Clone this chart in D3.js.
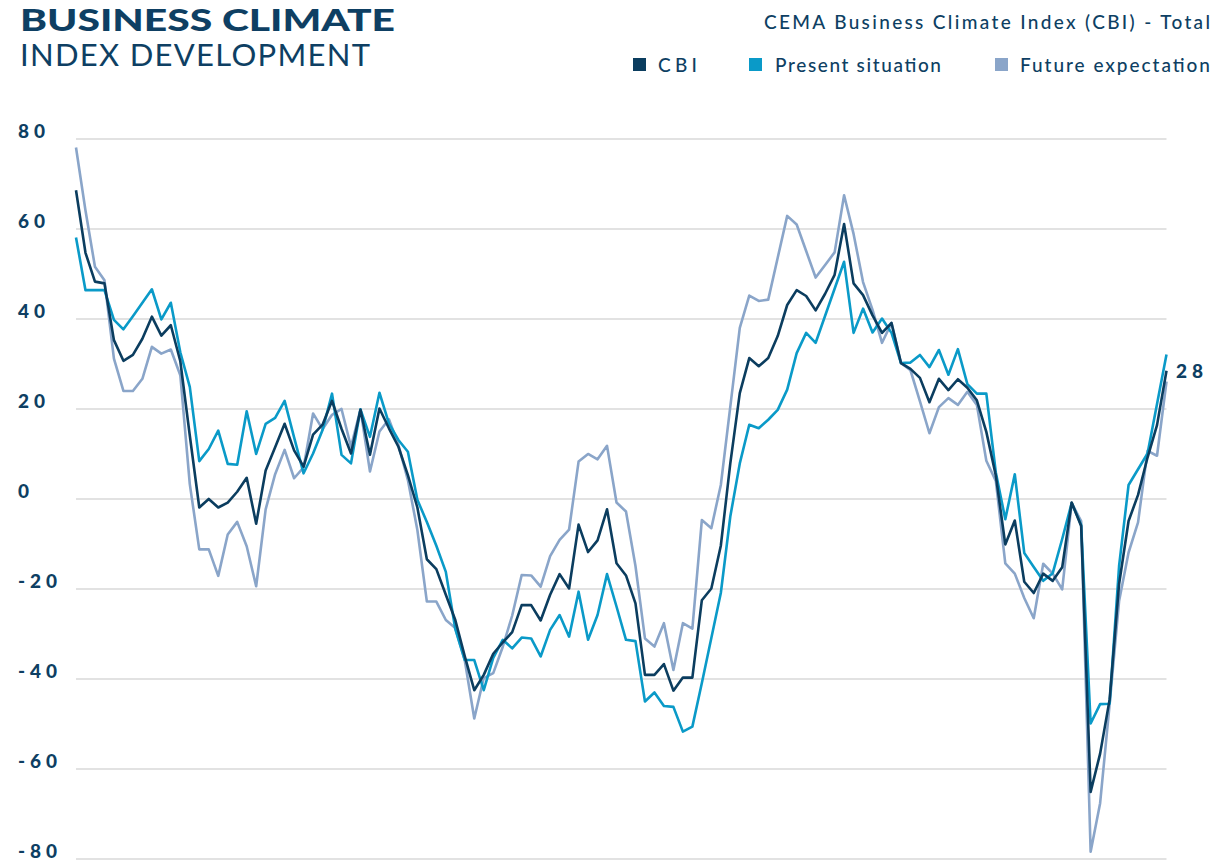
<!DOCTYPE html>
<html>
<head>
<meta charset="utf-8">
<script src="https://cdn.jsdelivr.net/npm/d3@7"></script>
<style>
  body { margin: 0; background: #ffffff; }
  svg { display: block; }
</style>
</head>
<body>
<svg id="chart" width="1214" height="860"></svg>
<script>
// ---------------- DATA ----------------
// Monthly survey observations (index of period, left to right)
const periods = d3.range(116);

const cbi = [
  68.5, 54.6, 48.2, 47.8, 35.2, 30.6, 31.9, 35.5, 40.4, 36.2,
  38.5, 30.5, 14, -2, -0.1, -2, -0.9, 1.5, 4.6, -5.6,
  6.2, 11.4, 16.6, 10.7, 7.1, 14.2, 16.4, 21.7, 15.5, 10,
  19.7, 9.7, 20, 15.6, 11.5, 5.2, -2, -13.5, -15.7, -21.4,
  -27, -35.1, -42.6, -39.2, -34.5, -32, -29.7, -23.7, -23.7, -27.1,
  -21.4, -16.8, -20, -5.8, -11.9, -9.3, -2.4, -14.4, -17.1, -23.3,
  -39.2, -39.2, -36.8, -42.7, -39.8, -39.8, -22.6, -20, -10.5, 7.8,
  23.4, 31.2, 29.4, 31.2, 36.1, 43, 46.3, 45, 41.8, 45.5,
  49.7, 61, 47.8, 45.2, 40.7, 36.8, 39, 30.1, 28.8, 26.8,
  21.4, 26.6, 24.1, 26.5, 24.6, 21.8, 14.8, 5.1, -10.2, -4.9,
  -18.5, -21, -16.7, -18.3, -15.3, -0.9, -6.1, -65.2, -56.7, -44.7,
  -19, -5, 0.8, 9.1, 16.3, 28.4
];

const presentSituation = [
  58, 46.3, 46.3, 46.3, 39.7, 37.6, 40.5, 43.5, 46.5, 39.8,
  43.5, 32.5, 24.8, 8.3, 11, 15.1, 7.7, 7.5, 19.4, 9.9,
  16.6, 17.9, 21.7, 13.6, 5.6, 10, 15.2, 23.3, 9.7, 7.8,
  19.8, 13.7, 23.5, 16.7, 13, 10.4, -0.3, -5.2, -10.5, -16.3,
  -29, -35.9, -35.9, -42.6, -35.4, -31.4, -33.3, -30.9, -31.1, -35.1,
  -29.2, -25.9, -30.7, -20.7, -31.4, -25.9, -16.8, -24, -31.4, -31.7,
  -45.1, -43.1, -46.1, -46.3, -51.8, -50.7, -41, -31, -21, -4,
  7.8, 16.4, 15.6, 17.5, 19.7, 24.2, 32.3, 36.8, 34.6, 40.6,
  46.6, 52.6, 36.8, 42.2, 36.9, 40, 36.8, 30.1, 30.2, 31.9,
  29.2, 33, 27.5, 33.2, 25.4, 23.3, 23.3, 5.8, -4.6, 5.4,
  -12.1, -15.2, -18.3, -16.6, -9, -1, -5.9, -50, -45.7, -45.6,
  -15, 3, 6.5, 10, 21, 32
];

const futureExpectation = [
  78, 64, 51.5, 48.5, 31.1, 23.9, 23.9, 26.6, 33.7, 32.2,
  33.1, 27.4, 3.2, -11.3, -11.3, -17.2, -8, -5.2, -10.6, -19.5,
  -2.4, 5.4, 10.8, 4.5, 6.9, 18.9, 15.4, 18.6, 19.9, 11.5,
  19.8, 6, 14.9, 17.6, 11.9, 4.1, -7, -22.9, -22.9, -27,
  -28.8, -36, -48.9, -39.9, -38.8, -33, -26, -17, -17.1, -19.6,
  -12.8, -9.2, -6.9, 8.2, 9.9, 8.7, 11.7, -0.9, -2.9, -15,
  -31.1, -32.9, -27.7, -38.1, -27.7, -28.9, -4.8, -6.6, 3, 20.4,
  37.9, 45.1, 43.9, 44.2, 53.5, 62.8, 60.9, 55, 49.1, 51.9,
  54.7, 67.4, 58.8, 48.1, 41.9, 34.6, 39, 30.1, 28.5, 21.6,
  14.5, 20.3, 22.3, 20.8, 23.7, 20.8, 8.4, 3.9, -14.4, -16.7,
  -22.1, -26.6, -14.5, -16.7, -20.2, -1, -5, -78.5, -67.7, -45.8,
  -22.8, -12, -5.3, 10.6, 9.5, 26
];

const yTicks = [80, 60, 40, 20, 0, -20, -40, -60, -80];
const seriesNames = ["CBI", "Present situation", "Future expectation"];
const seriesColors = ["#0b3d5f", "#0a9ac8", "#8aa5c9"];
const titleLine1 = "BUSINESS CLIMATE";
const titleLine2 = "INDEX DEVELOPMENT";
const subtitle = "CEMA Business Climate Index (CBI) - Total";

// ---------------- CHART ----------------
const svg = d3.select("#chart");
const navy = "#0e3f63";

const x = d3.scaleLinear().domain([0, periods.length - 1]).range([76, 1166.5]);
const y = d3.scaleLinear().domain([-80, 80]).range([858.5, 138.5]);

// gridlines
const grid = svg.append("g")
  .attr("transform", "translate(76,0)")
  .call(d3.axisRight(y).tickValues(yTicks).tickSize(x.range()[1] - x.range()[0]).tickFormat(""));
grid.select(".domain").remove();
grid.selectAll(".tick line").attr("stroke", "#d9d9d9").attr("stroke-width", 1.5);

// y labels
svg.append("g").selectAll("text")
  .data(yTicks)
  .join("text")
  .attr("x", 18)
  .attr("y", d => y(d) - 1)
  .attr("fill", navy)
  .attr("font-family", "Lato, 'Open Sans', sans-serif")
  .attr("font-weight", 900)
  .attr("font-size", 19)
  .attr("letter-spacing", "5px")
  .text(d => d3.format("d")(d).replace("−", "-"));

// lines
const series = [cbi, presentSituation, futureExpectation];
const line = d3.line()
  .x((d, i) => x(periods[i]))
  .y(d => y(d));

const drawOrder = [2, 1, 0];
svg.append("g").selectAll("path")
  .data(drawOrder)
  .join("path")
  .attr("d", k => line(series[k]))
  .attr("fill", "none")
  .attr("stroke", k => seriesColors[k])
  .attr("stroke-width", 2.6)
  .attr("stroke-linejoin", "round");

// end label for CBI
const lastIdx = cbi.length - 1;
svg.append("text")
  .attr("x", 1176)
  .attr("y", y(cbi[lastIdx]))
  .attr("dy", "0.36em")
  .attr("fill", navy)
  .attr("font-family", "Lato, 'Open Sans', sans-serif")
  .attr("font-weight", 900)
  .attr("font-size", 19)
  .attr("letter-spacing", "5px")
  .text(d3.format(".0f")(cbi[lastIdx]));

// titles
svg.append("text")
  .attr("x", 20).attr("y", 31)
  .attr("fill", navy)
  .attr("font-family", "Lato, sans-serif")
  .attr("font-weight", 900)
  .attr("font-size", 30)
  .attr("textLength", 375)
  .attr("lengthAdjust", "spacingAndGlyphs")
  .text(titleLine1);

svg.append("text")
  .attr("x", 20).attr("y", 66)
  .attr("fill", navy)
  .attr("font-family", "Lato, sans-serif")
  .attr("font-weight", 400)
  .attr("font-size", 31)
  .attr("textLength", 350)
  .attr("lengthAdjust", "spacing")
  .text(titleLine2);

svg.append("text")
  .attr("x", 764).attr("y", 29)
  .attr("fill", navy)
  .attr("font-family", "Lato, sans-serif")
  .attr("font-weight", 500)
  .attr("font-size", 19)
  .attr("textLength", 446)
  .attr("lengthAdjust", "spacing")
  .text(subtitle);

// legend
const legendItems = [
  { sq: 633, tx: 658, w: 39 },
  { sq: 749, tx: 775, w: 166 },
  { sq: 995, tx: 1020, w: 190 }
];
const lg = svg.append("g");
lg.selectAll("rect")
  .data(seriesNames)
  .join("rect")
  .attr("x", (d, i) => legendItems[i].sq)
  .attr("y", 58)
  .attr("width", 13)
  .attr("height", 13)
  .attr("fill", (d, i) => seriesColors[i]);
lg.selectAll("text")
  .data(seriesNames)
  .join("text")
  .attr("x", (d, i) => legendItems[i].tx)
  .attr("y", 72)
  .attr("fill", navy)
  .attr("font-family", "Lato, sans-serif")
  .attr("font-weight", 500)
  .attr("font-size", 19)
  .attr("textLength", (d, i) => legendItems[i].w)
  .attr("lengthAdjust", "spacing")
  .text(d => d);
</script>
</body>
</html>
